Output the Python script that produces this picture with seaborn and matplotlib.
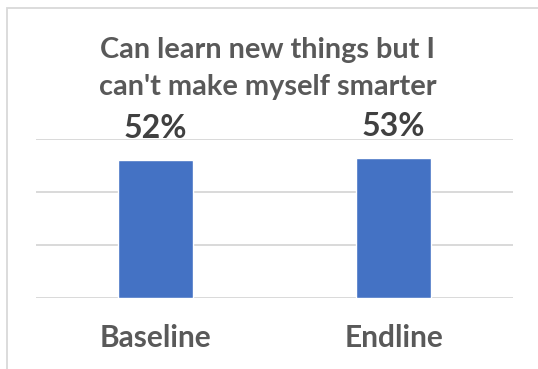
import matplotlib
matplotlib.use("Agg")
import matplotlib.pyplot as plt
import seaborn as sns
import pandas as pd
from matplotlib.patches import Rectangle

categories = ["Baseline", "Endline"]
values = [0.52, 0.53]
value_labels = ["52%", "53%"]
title_lines = ["Can learn new things but I", "can't make myself smarter"]

sns.set_style("white")
plt.rcParams["font.family"] = ["Lato", "DejaVu Sans"]

df = pd.DataFrame({"cat": categories, "val": values})

W, H = 538, 369
fig = plt.figure(figsize=(W / 100, H / 100), dpi=100)
ax = fig.add_axes([36 / W, 1 - 298 / H, (513 - 36) / W, (298 - 139.3) / H])

sns.barplot(data=df, x="cat", y="val", color="#4472C4", saturation=1,
            width=0.313, ax=ax, zorder=3)
ax.set_xlim(-0.5, 1.5)
ax.set_ylim(0, 0.6)
ax.set_yticks([0, 0.2, 0.4, 0.6])
ax.set_yticklabels([])
ax.yaxis.grid(True, color="#D9D9D9", linewidth=1.4, zorder=0)
ax.set_axisbelow(True)
for s in ax.spines.values():
    s.set_visible(False)
ax.set_xlabel("")
ax.set_ylabel("")
ax.tick_params(axis="x", length=0, pad=19, labelsize=21.5, labelcolor="#595959")
ax.tick_params(axis="y", length=0)
for t in ax.get_xticklabels():
    t.set_fontweight("bold")

for i, (v, lab) in enumerate(zip(values, value_labels)):
    ax.annotate(lab, xy=(i, v), xytext=(0, 16), textcoords="offset points",
                ha="center", va="baseline", fontsize=23, fontweight="bold",
                color="#404040")

# title lines: baselines at ~58 px and ~95 px from top
for line, yb in zip(title_lines, [58, 95]):
    fig.text(268 / W, 1 - yb / H, line, ha="center", va="baseline",
             fontsize=20.8, fontweight="bold", color="#595959")

fig.patches.append(Rectangle((7 / W, -0.1), 1.2, 1 - 8 / H + 0.1,
                             transform=fig.transFigure, fill=False,
                             edgecolor="#D9D9D9", linewidth=1.3))

fig.savefig("out.png", dpi=100)
